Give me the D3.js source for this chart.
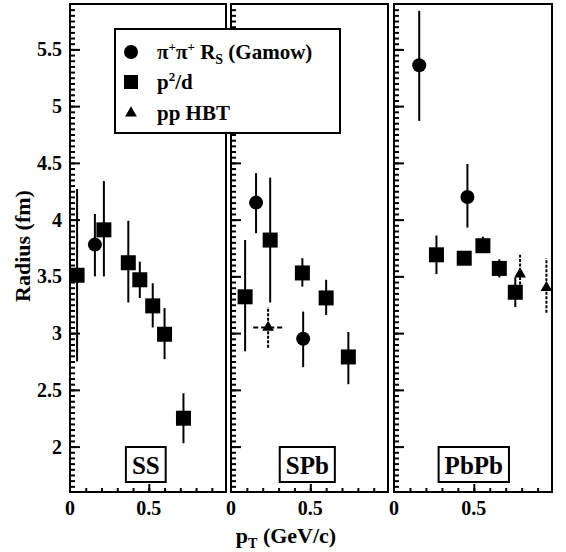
<!DOCTYPE html>
<html>
<head>
<meta charset="utf-8">
<script src="https://cdn.jsdelivr.net/npm/d3@7"></script>
<style>
  body { margin: 0; background: #fff; }
  text { font-family: "Liberation Serif", "Times New Roman", serif; font-weight: bold; fill: #000; }
  .ax path.domain { display: none; }
  .ax line { stroke: #000; stroke-width: 2px; }
</style>
</head>
<body>
<div id="chart"></div>
<script>
// panel names (systems)
const systems = ["SS", "SPb", "PbPb"];

// pi+pi+ R_S (Gamow): [system, pT, R, lower, upper]
const gamow = [
  ["SS", 0.158, 3.78, 3.50, 4.05],
  ["SPb", 0.158, 4.15, 3.88, 4.41],
  ["SPb", 0.455, 2.95, 2.70, 3.19],
  ["PbPb", 0.158, 5.36, 4.87, 5.84],
  ["PbPb", 0.46, 4.20, 3.93, 4.49]
];

// p^2/d
const p2d = [
  ["SS", 0.045, 3.51, 2.75, 4.27],
  ["SS", 0.215, 3.91, 3.50, 4.34],
  ["SS", 0.37, 3.62, 3.27, 3.99],
  ["SS", 0.443, 3.47, 3.31, 3.63],
  ["SS", 0.525, 3.24, 3.05, 3.44],
  ["SS", 0.60, 2.99, 2.77, 3.22],
  ["SS", 0.72, 2.25, 2.03, 2.47],
  ["SPb", 0.089, 3.32, 2.84, 3.82],
  ["SPb", 0.247, 3.82, 3.27, 4.37],
  ["SPb", 0.45, 3.53, 3.41, 3.66],
  ["SPb", 0.60, 3.31, 3.16, 3.47],
  ["SPb", 0.74, 2.79, 2.55, 3.01],
  ["PbPb", 0.266, 3.69, 3.52, 3.86],
  ["PbPb", 0.44, 3.66, 3.66, 3.66],
  ["PbPb", 0.557, 3.77, 3.72, 3.85],
  ["PbPb", 0.66, 3.57, 3.49, 3.65],
  ["PbPb", 0.76, 3.36, 3.23, 3.49]
];

// pp HBT: [system, pT, R, lower, upper, pT low, pT high]
const ppHBT = [
  ["SPb", 0.234, 3.05, 2.87, 3.23, 0.14, 0.335],
  ["PbPb", 0.79, 3.52, 3.35, 3.69, 0.79, 0.79],
  ["PbPb", 0.955, 3.40, 3.18, 3.66, 0.955, 0.955]
];

const yTicks = [2, 2.5, 3, 3.5, 4, 4.5, 5, 5.5];
const yMinor = d3.range(33, 118).map(k => k / 20);   // every 0.05 fm
const xTicks = [0, 0.5];
const xMinor = d3.range(1, 10).map(k => k / 10);      // every 0.1 GeV/c

const W = 566, H = 552;
const svg = d3.select("#chart").append("svg")
  .attr("width", W).attr("height", H);

const yTop = 4, yBottom = 492;
const panelX = [[70, 226], [231, 388], [394, 552]];

const y = d3.scaleLinear().domain([1.6, 5.9]).range([yBottom, yTop]);

systems.forEach(function (sys, i) {
  const x = d3.scaleLinear().domain([0, 0.99]).range(panelX[i]);
  const g = svg.append("g");

  // frame
  g.append("rect")
    .attr("x", panelX[i][0]).attr("y", yTop)
    .attr("width", panelX[i][1] - panelX[i][0]).attr("height", yBottom - yTop)
    .attr("fill", "none").attr("stroke", "#000").attr("stroke-width", 2);

  // left ticks pointing inward
  g.append("g").attr("class", "ax")
    .attr("transform", `translate(${panelX[i][0]},0)`)
    .call(d3.axisRight(y).tickValues(yMinor).tickSize(5).tickFormat(""));
  g.append("g").attr("class", "ax")
    .attr("transform", `translate(${panelX[i][0]},0)`)
    .call(d3.axisRight(y).tickValues(yTicks).tickSize(10).tickFormat(""));
  // bottom ticks pointing inward
  g.append("g").attr("class", "ax")
    .attr("transform", `translate(0,${yBottom})`)
    .call(d3.axisTop(x).tickValues(xMinor).tickSize(4).tickFormat(""));
  g.append("g").attr("class", "ax")
    .attr("transform", `translate(0,${yBottom})`)
    .call(d3.axisTop(x).tickValues([0.5]).tickSize(8).tickFormat(""));

  // x tick labels
  xTicks.forEach(function (t) {
    g.append("text")
      .attr("x", x(t)).attr("y", 515)
      .attr("text-anchor", "middle")
      .style("font-size", "20px")
      .text(t === 0 ? "0" : t);
  });

  // error bars + markers
  gamow.filter(d => d[0] === sys).forEach(function (d) {
    g.append("line")
      .attr("x1", x(d[1])).attr("x2", x(d[1]))
      .attr("y1", y(d[3])).attr("y2", y(d[4]))
      .attr("stroke", "#000").attr("stroke-width", 2);
    g.append("circle")
      .attr("cx", x(d[1])).attr("cy", y(d[2])).attr("r", 7)
      .attr("fill", "#000");
  });
  p2d.filter(d => d[0] === sys).forEach(function (d) {
    g.append("line")
      .attr("x1", x(d[1])).attr("x2", x(d[1]))
      .attr("y1", y(d[3])).attr("y2", y(d[4]))
      .attr("stroke", "#000").attr("stroke-width", 2);
    g.append("rect")
      .attr("x", x(d[1]) - 7.5).attr("y", y(d[2]) - 7.5)
      .attr("width", 15).attr("height", 15)
      .attr("fill", "#000");
  });
  ppHBT.filter(d => d[0] === sys).forEach(function (d) {
    g.append("line")
      .attr("x1", x(d[1])).attr("x2", x(d[1]))
      .attr("y1", y(d[3])).attr("y2", y(d[4]))
      .attr("stroke", "#000").attr("stroke-width", 2)
      .attr("stroke-dasharray", "3,1.5");
    if (d[5] !== d[6]) {
      g.append("line")
        .attr("x1", x(d[5])).attr("x2", x(d[6]))
        .attr("y1", y(d[2])).attr("y2", y(d[2]))
        .attr("stroke", "#000").attr("stroke-width", 2)
        .attr("stroke-dasharray", "5,3");
    }
    g.append("path")
      .attr("d", d3.symbol(d3.symbolTriangle, 60)())
      .attr("transform", `translate(${x(d[1])},${y(d[2])})`)
      .attr("fill", "#000");
  });

  // system label box
  const box = g.append("rect")
    .attr("fill", "#fff").attr("stroke", "#000").attr("stroke-width", 2);
  const lbl = g.append("text")
    .attr("x", x(0.5) + (i === 2 ? 0 : -3)).attr("y", 474)
    .attr("text-anchor", "middle")
    .style("font-size", "25px")
    .text(sys);
  const bb = lbl.node().getBBox();
  box.attr("x", bb.x - 6).attr("y", 447)
    .attr("width", bb.width + 12).attr("height", 35);
});

// y tick labels
yTicks.forEach(function (t) {
  svg.append("text")
    .attr("x", 62).attr("y", y(t) + 7)
    .attr("text-anchor", "end")
    .style("font-size", "20px")
    .text(t);
});

// axis titles
svg.append("text")
  .attr("transform", "translate(30,246) rotate(-90)")
  .attr("text-anchor", "middle")
  .style("font-size", "22px")
  .text("Radius (fm)");

const xt = svg.append("text")
  .attr("x", 286).attr("y", 543)
  .attr("text-anchor", "middle")
  .style("font-size", "22px");
xt.append("tspan").text("p");
xt.append("tspan").attr("dy", 5).style("font-size", "14px").text("T");
xt.append("tspan").attr("dy", -5).text(" (GeV/c)");

// legend
const leg = svg.append("g");
leg.append("rect")
  .attr("x", 115).attr("y", 29).attr("width", 225).attr("height", 104)
  .attr("fill", "#fff").attr("stroke", "#000").attr("stroke-width", 2);
leg.append("circle").attr("cx", 131).attr("cy", 52).attr("r", 7).attr("fill", "#000");
leg.append("rect").attr("x", 124).attr("y", 75).attr("width", 14).attr("height", 14).attr("fill", "#000");
leg.append("path")
  .attr("d", d3.symbol(d3.symbolTriangle, 60)())
  .attr("transform", "translate(131,113)")
  .attr("fill", "#000");

const l1 = leg.append("text").attr("x", 157).attr("y", 59).style("font-size", "21px");
l1.append("tspan").text("π");
l1.append("tspan").attr("dy", -8).style("font-size", "13px").text("+");
l1.append("tspan").attr("dy", 8).text("π");
l1.append("tspan").attr("dy", -8).style("font-size", "13px").text("+");
l1.append("tspan").attr("dy", 8).text(" R");
l1.append("tspan").attr("dy", 5).style("font-size", "14px").text("S");
l1.append("tspan").attr("dy", -5).text(" (Gamow)");

const l2 = leg.append("text").attr("x", 157).attr("y", 89).style("font-size", "21px");
l2.append("tspan").text("p");
l2.append("tspan").attr("dy", -8).style("font-size", "13px").text("2");
l2.append("tspan").attr("dy", 8).text("/d");

leg.append("text").attr("x", 157).attr("y", 120).style("font-size", "21px").text("pp HBT");
</script>
</body>
</html>
